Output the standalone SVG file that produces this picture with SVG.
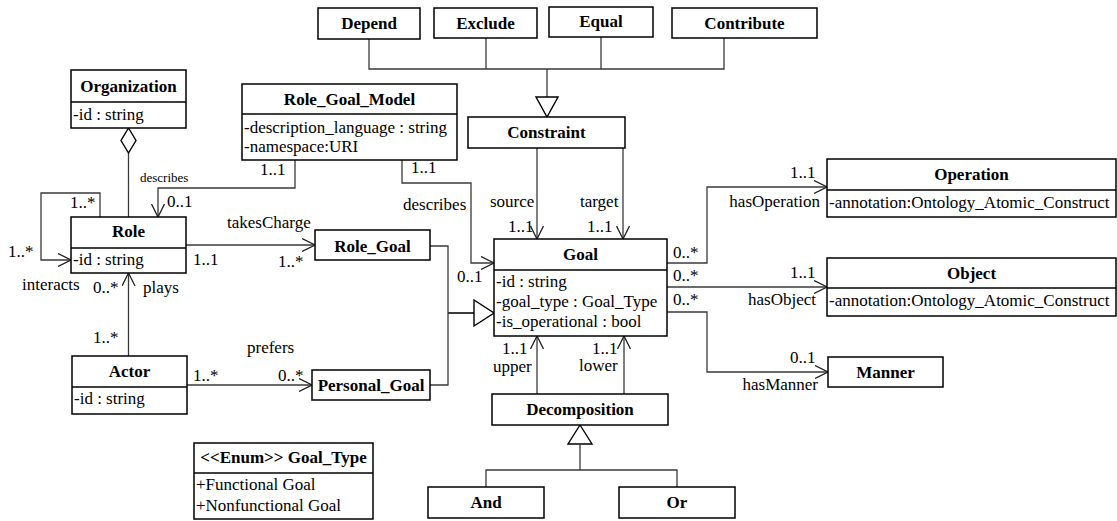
<svg xmlns="http://www.w3.org/2000/svg" width="1117" height="521" viewBox="0 0 1117 521">
<style>
.box{fill:#fff;stroke:#000;stroke-width:1.5}
.ln{fill:none;stroke:#3a3a3a;stroke-width:1.3}
.t{font-family:"Liberation Serif","Times New Roman",serif;font-size:17px;fill:#000}
.b{font-weight:bold;text-anchor:middle}
.e{text-anchor:end}
.s{font-size:13px}
.tri{fill:#fff;stroke:#000;stroke-width:1.4}
</style>
<defs>
<marker id="open" viewBox="0 0 14 14" refX="13" refY="7" markerWidth="14" markerHeight="14" markerUnits="userSpaceOnUse" orient="auto">
<path d="M0,0.5 L13,7 L0,13.5" fill="none" stroke="#222" stroke-width="1.3"/>
</marker>
</defs>
<g id="connectors">
<polyline class="ln" points="369,39 369,69 724,69 724,38"/>
<line class="ln" x1="486" y1="38" x2="486" y2="69"/>
<line class="ln" x1="601" y1="37" x2="601" y2="69"/>
<line class="ln" x1="547" y1="69" x2="547" y2="97"/>
<polygon class="tri" points="536,97 558,97 547,117"/>
<line class="ln" x1="128.5" y1="153" x2="128.5" y2="217"/>
<polygon class="tri" points="128.5,128 136,140.5 128.5,153 121,140.5"/>
<polyline class="ln" points="100,217 100,193 41,193 41,260 71,260" marker-end="url(#open)"/>
<polyline class="ln" points="295,160 295,188 158,188 158,217" marker-end="url(#open)"/>
<line class="ln" x1="186" y1="245" x2="315" y2="245" marker-end="url(#open)"/>
<polyline class="ln" points="402,160 402,183 471,183 471,263 494,263" marker-end="url(#open)"/>
<line class="ln" x1="537" y1="148" x2="537" y2="239" marker-end="url(#open)"/>
<line class="ln" x1="623" y1="148" x2="623" y2="239" marker-end="url(#open)"/>
<polyline class="ln" points="430,246 448,246 448,385 430,385"/>
<line class="ln" x1="448" y1="313" x2="474" y2="313" style="stroke-width:2"/>
<polygon class="tri" points="474,300 474,326 494,313"/>
<line class="ln" x1="187" y1="385" x2="312" y2="385" marker-end="url(#open)"/>
<line class="ln" x1="128.5" y1="356" x2="128.5" y2="273" marker-end="url(#open)"/>
<line class="ln" x1="537" y1="394" x2="537" y2="336" marker-end="url(#open)"/>
<line class="ln" x1="624" y1="394" x2="624" y2="336" marker-end="url(#open)"/>
<polygon class="tri" points="580,425 592,444 568,444"/>
<polyline class="ln" points="580,444 580,470"/>
<polyline class="ln" points="486,487 486,470 677,470 677,487"/>
<polyline class="ln" points="667,263 707,263 707,187 827,187" marker-end="url(#open)"/>
<line class="ln" x1="667" y1="287" x2="827" y2="287" marker-end="url(#open)"/>
<polyline class="ln" points="667,312 707,312 707,372 828,372" marker-end="url(#open)"/>
<text class="t" x="260" y="175">1..1</text>
<text class="t s" x="140" y="182">describes</text>
<text class="t" x="167" y="207">0..1</text>
<text class="t" x="70" y="208">1..*</text>
<text class="t" x="8" y="257">1..*</text>
<text class="t" x="22" y="290">interacts</text>
<text class="t" x="227" y="228">takesCharge</text>
<text class="t" x="193" y="265">1..1</text>
<text class="t" x="278" y="267">1..*</text>
<text class="t" x="411" y="173">1..1</text>
<text class="t" x="403" y="210">describes</text>
<text class="t" x="457" y="282">0..1</text>
<text class="t" x="490" y="207">source</text>
<text class="t" x="508" y="232">1..1</text>
<text class="t" x="580" y="207">target</text>
<text class="t" x="587" y="232">1..1</text>
<text class="t" x="193" y="381">1..*</text>
<text class="t" x="278" y="381">0..*</text>
<text class="t" x="247" y="353">prefers</text>
<text class="t" x="93" y="343">1..*</text>
<text class="t" x="93" y="293">0..*</text>
<text class="t" x="143" y="293">plays</text>
<text class="t" x="502" y="354">1..1</text>
<text class="t" x="493" y="372">upper</text>
<text class="t" x="592" y="354">1..1</text>
<text class="t" x="579" y="371">lower</text>
<text class="t" x="673" y="258">0..*</text>
<text class="t" x="673" y="281">0..*</text>
<text class="t" x="673" y="305">0..*</text>
<text class="t" x="790" y="178">1..1</text>
<text class="t e" x="820" y="207">hasOperation</text>
<text class="t" x="790" y="278">1..1</text>
<text class="t e" x="816" y="305">hasObject</text>
<text class="t" x="790" y="363">0..1</text>
<text class="t e" x="818" y="390">hasManner</text>
</g>
<g id="Depend"><rect class="box" x="318" y="8" width="102" height="31"/><text class="t b" x="369" y="29">Depend</text></g>
<g id="Exclude"><rect class="box" x="434" y="8" width="103" height="30"/><text class="t b" x="485.5" y="29">Exclude</text></g>
<g id="Equal"><rect class="box" x="549" y="7" width="104" height="30"/><text class="t b" x="601" y="27">Equal</text></g>
<g id="Contribute"><rect class="box" x="672" y="8" width="145" height="30"/><text class="t b" x="744.5" y="29">Contribute</text></g>
<g id="Constraint"><rect class="box" x="468" y="117" width="157" height="31"/><text class="t b" x="546.5" y="138">Constraint</text></g>
<g id="Role_Goal_Model"><rect class="box" x="242" y="84" width="215" height="76"/><line class="box" x1="242" y1="114" x2="457" y2="114"/><text class="t b" x="349.5" y="105">Role_Goal_Model</text><text class="t" x="244" y="133">-description_language : string</text><text class="t" x="244" y="152">-namespace:URI</text></g>
<g id="Organization"><rect class="box" x="71" y="70" width="115" height="58"/><line class="box" x1="71" y1="102" x2="186" y2="102"/><text class="t b" x="128.5" y="92">Organization</text><text class="t" x="73" y="120">-id : string</text></g>
<g id="Role"><rect class="box" x="71" y="217" width="115" height="56"/><line class="box" x1="71" y1="248" x2="186" y2="248"/><text class="t b" x="128.5" y="237">Role</text><text class="t" x="73" y="265">-id : string</text></g>
<g id="Role_Goal"><rect class="box" x="315" y="230" width="115" height="30"/><text class="t b" x="372.5" y="252">Role_Goal</text></g>
<g id="Goal"><rect class="box" x="494" y="239" width="173" height="97"/><line class="box" x1="494" y1="270" x2="667" y2="270"/><text class="t b" x="580.5" y="260">Goal</text><text class="t" x="496" y="287">-id : string</text><text class="t" x="496" y="307">-goal_type : Goal_Type</text><text class="t" x="496" y="327">-is_operational : bool</text></g>
<g id="Personal_Goal"><rect class="box" x="312" y="370" width="118" height="30"/><text class="t b" x="371" y="391">Personal_Goal</text></g>
<g id="Actor"><rect class="box" x="72" y="356" width="115" height="58"/><line class="box" x1="72" y1="387" x2="187" y2="387"/><text class="t b" x="129.5" y="377">Actor</text><text class="t" x="74" y="404">-id : string</text></g>
<g id="Goal_Type"><rect class="box" x="194" y="443" width="179" height="76"/><line class="box" x1="194" y1="473" x2="373" y2="473"/><text class="t b" x="283.5" y="463">&lt;&lt;Enum&gt;&gt; Goal_Type</text><text class="t" x="196" y="490">+Functional Goal</text><text class="t" x="196" y="511">+Nonfunctional Goal</text></g>
<g id="Decomposition"><rect class="box" x="492" y="394" width="176" height="31"/><text class="t b" x="580" y="415">Decomposition</text></g>
<g id="And"><rect class="box" x="428" y="487" width="116" height="31"/><text class="t b" x="486" y="508">And</text></g>
<g id="Or"><rect class="box" x="619" y="487" width="116" height="31"/><text class="t b" x="677" y="508">Or</text></g>
<g id="Operation"><rect class="box" x="827" y="159" width="289" height="58"/><line class="box" x1="827" y1="190" x2="1116" y2="190"/><text class="t b" x="971.5" y="180">Operation</text><text class="t" x="829" y="208">-annotation:Ontology_Atomic_Construct</text></g>
<g id="Object"><rect class="box" x="827" y="258" width="289" height="58"/><line class="box" x1="827" y1="288" x2="1116" y2="288"/><text class="t b" x="971.5" y="279">Object</text><text class="t" x="829" y="306">-annotation:Ontology_Atomic_Construct</text></g>
<g id="Manner"><rect class="box" x="828" y="357" width="115" height="30"/><text class="t b" x="885.5" y="378">Manner</text></g>
</svg>
